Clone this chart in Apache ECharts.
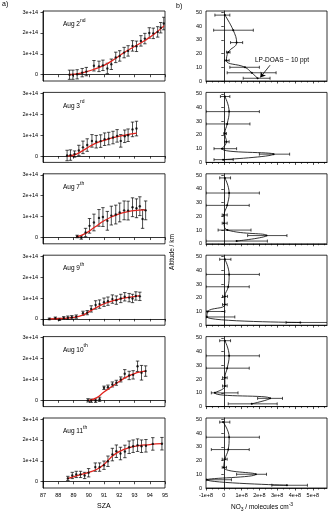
<!DOCTYPE html>
<html>
<head>
<meta charset="utf-8">
<script src="https://cdn.jsdelivr.net/npm/echarts@6/dist/echarts.min.js"></script>
<style>
  html, body { margin: 0; padding: 0; background: #fff; }
  #chart { width: 330px; height: 512px; }
</style>
</head>
<body>
<div id="chart"></div>
<script>
// a) slant columns vs SZA (values in 1e14)
const aug2Sza = [88.74, 88.96, 89.24, 89.57, 89.84, 90.34, 90.67, 90.93, 91.22, 91.48, 91.77, 92.03, 92.32, 92.58, 92.87, 93.13, 93.42, 93.68, 93.97, 94.23, 94.52, 94.72, 94.92];
const aug2Col = [0.0, 0.0, 0.02, 0.1, 0.15, 0.43, 0.4, 0.45, 0.3, 0.5, 0.83, 0.9, 1.06, 1.14, 1.38, 1.36, 1.62, 1.73, 2.0, 1.98, 2.05, 2.25, 2.45];
const aug2Err = [0.22, 0.22, 0.22, 0.2, 0.2, 0.25, 0.25, 0.25, 0.25, 0.25, 0.25, 0.25, 0.25, 0.25, 0.25, 0.25, 0.25, 0.25, 0.25, 0.25, 0.25, 0.25, 0.3];
const aug2FitSza = [88.7, 89.5, 90.3, 91.0, 91.7, 92.3, 93.0, 93.7, 94.3, 94.95];
const aug2Fit = [0.0, 0.08, 0.25, 0.45, 0.75, 1.05, 1.35, 1.65, 1.95, 2.35];

const aug3Sza = [88.58, 88.8, 89.07, 89.35, 89.62, 89.9, 90.21, 90.49, 90.78, 91.04, 91.31, 91.59, 91.86, 92.1, 92.36, 92.58, 92.87, 93.13];
const aug3Col = [0.03, 0.05, 0.1, 0.27, 0.42, 0.53, 0.73, 0.69, 0.72, 0.81, 0.84, 0.89, 0.97, 0.73, 0.95, 1.0, 1.28, 1.32];
const aug3Err = [0.25, 0.25, 0.15, 0.25, 0.3, 0.3, 0.3, 0.3, 0.3, 0.3, 0.3, 0.3, 0.3, 0.3, 0.3, 0.3, 0.35, 0.35];
const aug3FitSza = [88.6, 89.2, 89.8, 90.4, 91.0, 91.6, 92.2, 92.7, 93.15];
const aug3Fit = [0.0, 0.1, 0.35, 0.6, 0.75, 0.88, 0.98, 1.05, 1.1];

const aug7Sza = [89.24, 89.51, 89.79, 90.05, 90.34, 90.67, 90.93, 91.22, 91.48, 91.77, 92.03, 92.32, 92.58, 92.87, 93.13, 93.35, 93.53, 93.73];
const aug7Col = [0.05, 0.0, 0.24, 0.56, 0.72, 0.94, 0.98, 0.8, 1.05, 1.1, 1.2, 1.3, 1.29, 1.45, 1.4, 1.5, 0.89, 1.3];
const aug7Err = [0.06, 0.08, 0.2, 0.35, 0.4, 0.4, 0.45, 0.45, 0.45, 0.45, 0.45, 0.45, 0.45, 0.45, 0.45, 0.45, 0.45, 0.45];
const aug7FitSza = [89.2, 89.8, 90.4, 91.0, 91.6, 92.2, 92.8, 93.3, 93.75];
const aug7Fit = [0.03, 0.2, 0.5, 0.8, 1.02, 1.18, 1.28, 1.31, 1.32];

const aug9Sza = [87.42, 87.81, 88.08, 88.36, 88.63, 88.89, 89.18, 89.62, 89.9, 90.16, 90.45, 90.71, 91.0, 91.26, 91.55, 91.81, 92.1, 92.36, 92.65, 92.87, 93.09, 93.35];
const aug9Col = [0.0, 0.04, -0.02, 0.05, 0.06, 0.08, 0.11, 0.27, 0.3, 0.48, 0.67, 0.71, 0.8, 0.85, 0.95, 0.9, 0.98, 1.06, 1.02, 0.98, 1.1, 1.08];
const aug9Err = [0.04, 0.05, 0.05, 0.06, 0.08, 0.08, 0.08, 0.1, 0.1, 0.15, 0.2, 0.2, 0.2, 0.2, 0.2, 0.2, 0.2, 0.2, 0.2, 0.2, 0.2, 0.2];
const aug9FitSza = [87.4, 88.2, 89.0, 89.6, 90.2, 90.8, 91.4, 92.0, 92.6, 93.35];
const aug9Fit = [0.0, 0.02, 0.07, 0.18, 0.42, 0.66, 0.83, 0.95, 1.03, 1.12];

const aug10Sza = [89.95, 90.16, 90.45, 90.71, 91.0, 91.26, 91.55, 91.81, 92.1, 92.36, 92.65, 92.91, 93.2, 93.46, 93.73];
const aug10Col = [0.0, -0.02, -0.02, 0.05, 0.6, 0.63, 0.76, 0.84, 1.0, 1.27, 1.19, 1.22, 1.63, 1.32, 1.4];
const aug10Err = [0.08, 0.08, 0.08, 0.1, 0.08, 0.1, 0.12, 0.12, 0.12, 0.2, 0.2, 0.2, 0.25, 0.35, 0.25];
const aug10FitSza = [90.0, 90.5, 91.0, 91.5, 92.0, 92.5, 93.0, 93.4, 93.75];
const aug10Fit = [0.0, 0.12, 0.4, 0.65, 0.9, 1.12, 1.28, 1.36, 1.4];

const aug11Sza = [88.63, 88.92, 89.18, 89.46, 89.73, 89.99, 90.43, 90.71, 91.0, 91.26, 91.55, 91.81, 92.08, 92.37, 92.65, 92.91, 93.2, 93.46, 93.75, 94.2, 94.8];
const aug11Col = [0.16, 0.3, 0.35, 0.35, 0.3, 0.43, 0.7, 0.7, 0.79, 0.98, 1.3, 1.46, 1.35, 1.45, 1.65, 1.7, 1.75, 1.7, 1.72, 1.81, 1.82];
const aug11Err = [0.1, 0.15, 0.15, 0.15, 0.15, 0.2, 0.2, 0.2, 0.2, 0.25, 0.3, 0.3, 0.3, 0.3, 0.3, 0.3, 0.3, 0.3, 0.3, 0.3, 0.3];
const aug11FitSza = [88.6, 89.3, 90.0, 90.6, 91.1, 91.6, 92.1, 92.6, 93.2, 94.0, 94.8];
const aug11Fit = [0.15, 0.3, 0.45, 0.62, 0.9, 1.25, 1.48, 1.62, 1.72, 1.78, 1.82];

// b) NO3 profiles (values in 1e8 molecules cm-3)
const altitude = [48, 37, 28, 21, 15, 10, 6, 2];
const aug2No3 = [0.06, 0.53, 0.72, 0.25, 0.15, 1.19, 1.57, 1.9];
const aug2Lo = [-0.5, -0.57, 0.38, 0.15, 0.05, 0.34, 0.19, 1.09];
const aug2Hi = [0.34, 1.66, 1.06, 0.35, 0.3, 2.0, 2.94, 2.6];
const aug3No3 = [0.06, 0.3, 0.19, 0.06, 0.15, -0.1, 2.8, -0.04];
const aug3Lo = [-0.19, -1.0, -1.0, 0.0, 0.05, -0.55, 2.0, -0.55];
const aug3Hi = [0.34, 2.0, 1.47, 0.15, 0.3, 0.72, 3.7, 0.53];
const aug7No3 = [0.06, 0.3, 0.19, 0.02, 0.02, 0.2, 2.4, 0.72];
const aug7Lo = [-0.23, -1.0, -1.0, -0.09, -0.09, -0.32, 1.34, -1.0];
const aug7Hi = [0.38, 2.0, 1.43, 0.19, 0.19, 1.53, 3.55, 2.45];
const aug9No3 = [0.06, 0.3, 0.25, 0.06, 0.06, -0.9, -0.95, 4.3];
const aug9Lo = [-0.23, -1.0, -1.0, -0.07, -0.07, -1.0, -1.0, 3.5];
const aug9Hi = [0.4, 2.0, 1.43, 0.21, 0.19, 0.06, 0.62, 6.0];
const aug10No3 = [0.06, 0.3, 0.19, 0.06, 0.06, -0.5, 2.6, 1.57];
const aug10Lo = [-0.23, -1.0, -1.0, -0.07, -0.07, -0.7, 1.9, 0.25];
const aug10Hi = [0.38, 2.0, 1.43, 0.19, 0.19, 0.8, 3.3, 3.0];
const aug11No3 = [-0.04, 0.3, 0.25, 0.06, 0.0, 1.8, -0.95, 3.55];
const aug11Lo = [-0.23, -1.0, -0.7, -0.09, -0.09, 0.72, -1.0, 2.7];
const aug11Hi = [0.34, 2.0, 1.43, 0.19, 0.15, 2.4, 0.43, 4.7];

const dayLabels = ['2', '3', '7', '9', '10', '11'];
const daySups = ['nd', 'rd', 'th', 'th', 'th', 'th'];
const colTicks = [0, 1, 2, 3];
const no3Ticks = [-1, 0, 1, 2, 3, 4, 5];
const altTicks = [0, 10, 20, 30, 40, 50];

const left = [
  [aug2Sza, aug2Col, aug2Err, aug2FitSza, aug2Fit],
  [aug3Sza, aug3Col, aug3Err, aug3FitSza, aug3Fit],
  [aug7Sza, aug7Col, aug7Err, aug7FitSza, aug7Fit],
  [aug9Sza, aug9Col, aug9Err, aug9FitSza, aug9Fit],
  [aug10Sza, aug10Col, aug10Err, aug10FitSza, aug10Fit],
  [aug11Sza, aug11Col, aug11Err, aug11FitSza, aug11Fit]
];
const right = [
  [aug2No3, aug2Lo, aug2Hi],
  [aug3No3, aug3Lo, aug3Hi],
  [aug7No3, aug7Lo, aug7Hi],
  [aug9No3, aug9Lo, aug9Hi],
  [aug10No3, aug10Lo, aug10Hi],
  [aug11No3, aug11Lo, aug11Hi]
];

const FONT = 'Liberation Sans';
const TOP0 = 11, STEP = 81.4, H = 70;

let vErr = (params, api) => {
  let x = api.value(0);
  let a = api.coord([x, api.value(1)]);
  let b = api.coord([x, api.value(2)]);
  let w = 1.7;
  let st = {stroke: '#000', lineWidth: 0.7};
  return {
    type: 'group',
    children: [
      {type: 'line', shape: {x1: a[0], y1: a[1], x2: b[0], y2: b[1]}, style: st},
      {type: 'line', shape: {x1: a[0] - w, y1: a[1], x2: a[0] + w, y2: a[1]}, style: st},
      {type: 'line', shape: {x1: b[0] - w, y1: b[1], x2: b[0] + w, y2: b[1]}, style: st}
    ]
  };
};

let hErr = (params, api) => {
  let y = api.value(2);
  let a = api.coord([api.value(0), y]);
  let b = api.coord([api.value(1), y]);
  let w = 1.5;
  let st = {stroke: '#000', lineWidth: 0.7};
  return {
    type: 'group',
    children: [
      {type: 'line', shape: {x1: a[0], y1: a[1], x2: b[0], y2: b[1]}, style: st},
      {type: 'line', shape: {x1: a[0], y1: a[1] - w, x2: a[0], y2: a[1] + w}, style: st},
      {type: 'line', shape: {x1: b[0], y1: b[1] - w, x2: b[0], y2: b[1] + w}, style: st}
    ]
  };
};

let grid = [], xAxis = [], yAxis = [], series = [], graphic = [];
let lineStyleAxis = {show: true, lineStyle: {color: '#000', width: 0.8}};
let tick = (vals) => ({show: true, length: 2.5, customValues: vals, lineStyle: {color: '#000', width: 0.7}});

for (let i = 0; i < 6; i++) {
  let top = TOP0 + i * STEP;
  let last = i === 5;
  grid.push({left: 43, width: 122, top: top, height: H, show: true, borderColor: '#000', borderWidth: 0.8});
  grid.push({left: 206, width: 121, top: top, height: H, show: true, borderColor: '#000', borderWidth: 0.8});

  xAxis.push({
    type: 'value', gridIndex: 2 * i, min: 87, max: 95, interval: 1,
    axisLine: lineStyleAxis, splitLine: {show: false},
    axisTick: {show: true, length: 2.5, lineStyle: {color: '#000', width: 0.7}},
    axisLabel: {show: last, fontSize: 5.5, color: '#000', fontFamily: FONT, margin: 4}
  });
  xAxis.push({
    type: 'value', gridIndex: 2 * i + 1, min: -1, max: 5.8,
    axisLine: lineStyleAxis, splitLine: {show: false},
    axisTick: tick(no3Ticks),
    minorTick: {show: true, splitNumber: 3, length: 1.5, lineStyle: {color: '#000', width: 0.6}},
    axisLabel: {show: last, customValues: no3Ticks, fontSize: 5.5, color: '#000', fontFamily: FONT, margin: 4,
      formatter: v => v === 0 ? '0' : v + 'e+8'}
  });
  yAxis.push({
    type: 'value', gridIndex: 2 * i, min: -0.3, max: 3.05,
    axisLine: lineStyleAxis, splitLine: {show: false},
    axisTick: tick(colTicks),
    axisLabel: {customValues: colTicks, fontSize: 5.5, color: '#000', fontFamily: FONT, margin: 5,
      formatter: v => v === 0 ? '0' : v + 'e+14'}
  });
  yAxis.push({
    type: 'value', gridIndex: 2 * i + 1, min: 0, max: 51,
    axisLine: lineStyleAxis, splitLine: {show: false},
    axisTick: tick(altTicks),
    axisLabel: {customValues: altTicks, fontSize: 5.5, color: '#000', fontFamily: FONT, margin: 4}
  });

  let [sza, col, err, fitSza, fit] = left[i];
  series.push({
    type: 'custom', xAxisIndex: 2 * i, yAxisIndex: 2 * i, renderItem: vErr, clip: true, silent: true,
    data: sza.map((s, k) => [s, col[k] - err[k], col[k] + err[k]])
  });
  series.push({
    type: 'line', xAxisIndex: 2 * i, yAxisIndex: 2 * i, smooth: 0.5, showSymbol: false, silent: true,
    lineStyle: {color: '#e0241e', width: 1.3}, z: 3,
    data: fitSza.map((s, k) => [s, fit[k]])
  });
  series.push({
    type: 'scatter', xAxisIndex: 2 * i, yAxisIndex: 2 * i, symbolSize: 2.4, silent: true, z: 4,
    itemStyle: {color: '#000'},
    data: sza.map((s, k) => [s, col[k]])
  });

  let [no3, lo, hi] = right[i];
  series.push({
    type: 'custom', xAxisIndex: 2 * i + 1, yAxisIndex: 2 * i + 1, renderItem: hErr, clip: true, silent: true,
    data: altitude.map((a, k) => [lo[k], hi[k], a])
  });
  let prof = {
    type: 'line', xAxisIndex: 2 * i + 1, yAxisIndex: 2 * i + 1, smooth: 0.45, silent: true,
    symbol: 'circle', symbolSize: 2, itemStyle: {color: '#000'},
    lineStyle: {color: '#000', width: 0.8},
    data: altitude.map((a, k) => [no3[k], a])
  };
  if (i === 0) {
    prof.markLine = {
      silent: true, symbol: ['none', 'arrow'], symbolSize: 5,
      lineStyle: {color: '#000', width: 0.8, type: 'solid'}, label: {show: false},
      data: [[{coord: [2.6, 11.5]}, {coord: [2.05, 2.6]}]]
    };
  }
  series.push(prof);

  graphic.push({
    type: 'text', left: 63, top: top + 7,
    style: {
      text: '{n|Aug ' + dayLabels[i] + '}{s|' + daySups[i] + '}',
      rich: {
        n: {fontSize: 6.5, fontFamily: FONT, fill: '#000', lineHeight: 10, verticalAlign: 'bottom'},
        s: {fontSize: 5, fontFamily: FONT, fill: '#000', lineHeight: 10, verticalAlign: 'top'}
      }
    }
  });
}

graphic.push(
  {type: 'text', left: 2, top: 1, style: {text: 'a)', fontSize: 7, fontFamily: FONT, fill: '#000'}},
  {type: 'text', left: 176, top: 3, style: {text: 'b)', fontSize: 7, fontFamily: FONT, fill: '#000'}},
  {type: 'text', left: 255, top: 57, style: {text: 'LP-DOAS ~ 10 ppt', fontSize: 6.5, fontFamily: FONT, fill: '#000'}},
  {type: 'text', left: 97, top: 503, style: {text: 'SZA', fontSize: 7, fontFamily: FONT, fill: '#000'}},
  {type: 'text', left: 231, top: 502, style: {
    text: '{n|NO}{b|3}{n| / molecules cm}{s|-3}',
    rich: {
      n: {fontSize: 6.5, fontFamily: FONT, fill: '#000', lineHeight: 10, verticalAlign: 'middle'},
      b: {fontSize: 5, fontFamily: FONT, fill: '#000', lineHeight: 10, verticalAlign: 'bottom'},
      s: {fontSize: 5, fontFamily: FONT, fill: '#000', lineHeight: 10, verticalAlign: 'top'}
    }
  }},
  {type: 'text', x: 172, y: 252, rotation: Math.PI / 2, style: {
    text: 'Altitude / km', fontSize: 6.5, fontFamily: FONT, fill: '#000', align: 'center', verticalAlign: 'middle'
  }}
);

let chart = echarts.init(document.getElementById('chart'), null, {renderer: 'canvas'});
chart.setOption({
  animation: false,
  backgroundColor: '#fff',
  grid, xAxis, yAxis, series, graphic
});
</script>
</body>
</html>
